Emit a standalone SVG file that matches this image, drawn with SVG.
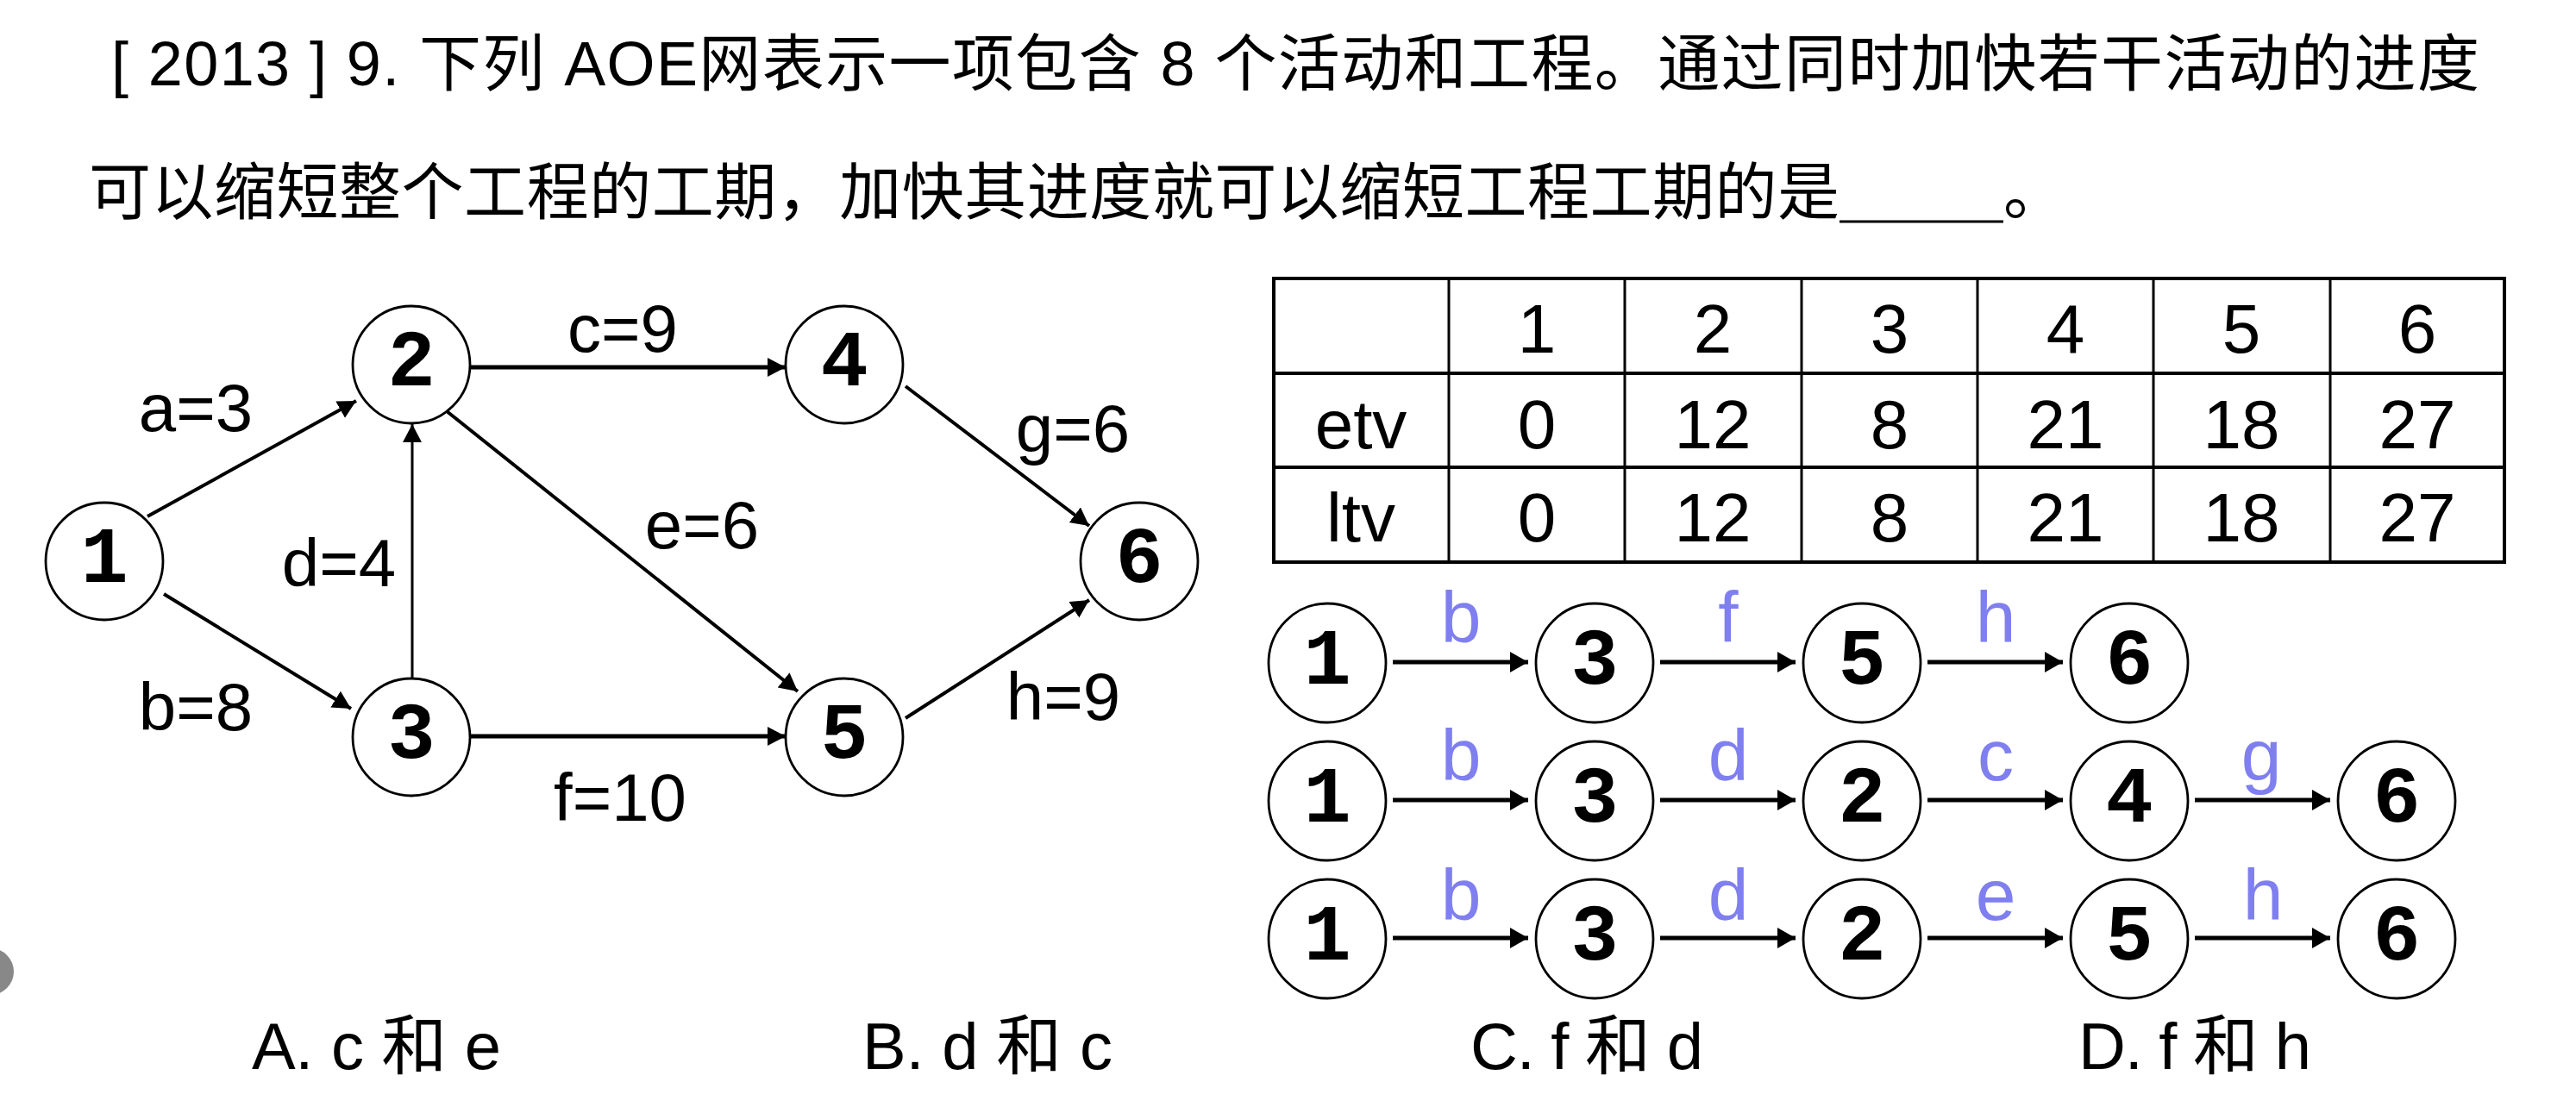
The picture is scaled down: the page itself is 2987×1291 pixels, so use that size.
<svg xmlns="http://www.w3.org/2000/svg" width="2987" height="1291" viewBox="0 0 2987 1291">
<style>
.bg{fill:#fff}
.node circle,.node ellipse{fill:#fff;stroke:#000;stroke-width:2.8}
.nl{font-family:"Liberation Mono","DejaVu Sans Mono",monospace;font-weight:bold;font-size:92px;text-anchor:middle;fill:#000}
.el{font-family:"Liberation Sans",Arial,sans-serif;font-size:78px;text-anchor:middle;fill:#000}
.bl{font-family:"Liberation Sans",Arial,sans-serif;font-size:84px;text-anchor:middle;fill:#7f7ff0}
.tt{font-family:"Liberation Sans","Noto Sans CJK SC",sans-serif;font-size:72px;fill:#000}
.op{font-family:"Liberation Sans","Noto Sans CJK SC",sans-serif;font-size:76px;fill:#000}
.cell{font-family:"Liberation Sans",Arial,sans-serif;font-size:80px;text-anchor:middle;fill:#000}
.e{stroke:#000;fill:none;stroke-width:4;marker-end:url(#ah)}
.p{stroke:#000;fill:none;stroke-width:5;marker-end:url(#ap)}
.th{stroke:#000;stroke-width:4}
.tv{stroke:#000;stroke-width:3}
</style>
<defs>
<marker id="ah" markerUnits="userSpaceOnUse" markerWidth="24" markerHeight="24" refX="21" refY="11" orient="auto" viewBox="0 0 24 24">
<path d="M0,0 L21,11 L0,22 z" fill="#000"/>
</marker>
<marker id="ap" markerUnits="userSpaceOnUse" markerWidth="26" markerHeight="26" refX="21" refY="12" orient="auto" viewBox="0 0 26 26">
<path d="M0,0 L21,12 L0,24 z" fill="#000"/>
</marker>
</defs>
<rect class="bg" x="0" y="0" width="2987" height="1291"/>

<g id="title">
<text class="tt" x="129" y="99" textLength="2746" lengthAdjust="spacing">[ 2013 ] 9. 下列 AOE网表示一项包含 8 个活动和工程。通过同时加快若干活动的进度</text>
<text class="tt" x="103" y="248" textLength="2030" lengthAdjust="spacing">可以缩短整个工程的工期，加快其进度就可以缩短工程工期的是</text>
<line x1="2133" y1="257" x2="2323" y2="257" stroke="#000" stroke-width="3"/>
<text class="tt" x="2323" y="248">。</text>
</g>

<g id="connectors">
<line class="e" x1="171" y1="599" x2="413" y2="465"/>
<line class="e" x1="190" y1="689" x2="407" y2="822"/>
<line class="e" x1="546" y1="426" x2="911" y2="426" style="stroke-width:5"/>
<line class="e" x1="478" y1="787" x2="478" y2="492" style="stroke-width:3"/>
<line class="e" x1="518" y1="477" x2="925" y2="802"/>
<line class="e" x1="546" y1="854" x2="911" y2="854" style="stroke-width:5"/>
<line class="e" x1="1050" y1="448" x2="1263" y2="610"/>
<line class="e" x1="1050" y1="833" x2="1263" y2="696"/>

<line class="p" x1="1615" y1="768" x2="1772" y2="768"/>
<line class="p" x1="1925" y1="768" x2="2082" y2="768"/>
<line class="p" x1="2235" y1="768" x2="2392" y2="768"/>

<line class="p" x1="1615" y1="928" x2="1772" y2="928"/>
<line class="p" x1="1925" y1="928" x2="2082" y2="928"/>
<line class="p" x1="2235" y1="928" x2="2392" y2="928"/>
<line class="p" x1="2545" y1="928" x2="2702" y2="928"/>

<line class="p" x1="1615" y1="1088" x2="1772" y2="1088"/>
<line class="p" x1="1925" y1="1088" x2="2082" y2="1088"/>
<line class="p" x1="2235" y1="1088" x2="2392" y2="1088"/>
<line class="p" x1="2545" y1="1088" x2="2702" y2="1088"/>
</g>

<g id="edge-labels">
<text class="el" x="227" y="500">a=3</text>
<text class="el" x="227" y="847">b=8</text>
<text class="el" x="722" y="408">c=9</text>
<text class="el" x="393" y="680">d=4</text>
<text class="el" x="814" y="636">e=6</text>
<text class="el" x="719" y="952">f=10</text>
<text class="el" x="1244" y="524">g=6</text>
<text class="el" x="1233" y="835">h=9</text>
</g>

<g id="n1" class="node"><circle cx="121" cy="651" r="68"/><text class="nl" x="121" y="675">1</text></g>
<g id="n2" class="node"><circle cx="477" cy="423" r="68"/><text class="nl" x="477" y="447">2</text></g>
<g id="n3" class="node"><circle cx="477" cy="855" r="68"/><text class="nl" x="477" y="879">3</text></g>
<g id="n4" class="node"><circle cx="979" cy="423" r="68"/><text class="nl" x="979" y="447">4</text></g>
<g id="n5" class="node"><circle cx="979" cy="855" r="68"/><text class="nl" x="979" y="879">5</text></g>
<g id="n6" class="node"><circle cx="1321" cy="651" r="68"/><text class="nl" x="1321" y="675">6</text></g>

<g id="table">
<rect x="1477" y="323" width="1427" height="329" fill="none" stroke="#000" stroke-width="4"/>
<line class="th" x1="1477" y1="433" x2="2904" y2="433"/>
<line class="th" x1="1477" y1="542" x2="2904" y2="542"/>
<line class="tv" x1="1680" y1="323" x2="1680" y2="652"/>
<line class="tv" x1="1884" y1="323" x2="1884" y2="652"/>
<line class="tv" x1="2089" y1="323" x2="2089" y2="652"/>
<line class="tv" x1="2293" y1="323" x2="2293" y2="652"/>
<line class="tv" x1="2497" y1="323" x2="2497" y2="652"/>
<line class="tv" x1="2702" y1="323" x2="2702" y2="652"/>
<text class="cell" x="1782" y="409">1</text>
<text class="cell" x="1986" y="409">2</text>
<text class="cell" x="2191" y="409">3</text>
<text class="cell" x="2395" y="409">4</text>
<text class="cell" x="2599" y="409">5</text>
<text class="cell" x="2803" y="409">6</text>
<text class="cell" x="1578" y="520">etv</text>
<text class="cell" x="1782" y="520">0</text>
<text class="cell" x="1986" y="520">12</text>
<text class="cell" x="2191" y="520">8</text>
<text class="cell" x="2395" y="520">21</text>
<text class="cell" x="2599" y="520">18</text>
<text class="cell" x="2803" y="520">27</text>
<text class="cell" x="1578" y="628">ltv</text>
<text class="cell" x="1782" y="628">0</text>
<text class="cell" x="1986" y="628">12</text>
<text class="cell" x="2191" y="628">8</text>
<text class="cell" x="2395" y="628">21</text>
<text class="cell" x="2599" y="628">18</text>
<text class="cell" x="2803" y="628">27</text>
</g>

<g id="path-labels">
<text class="bl" x="1694" y="745">b</text>
<text class="bl" x="2004" y="745">f</text>
<text class="bl" x="2314" y="745">h</text>
<text class="bl" x="1694" y="905">b</text>
<text class="bl" x="2004" y="905">d</text>
<text class="bl" x="2314" y="905">c</text>
<text class="bl" x="2622" y="905">g</text>
<text class="bl" x="1694" y="1067">b</text>
<text class="bl" x="2004" y="1067">d</text>
<text class="bl" x="2314" y="1067">e</text>
<text class="bl" x="2624" y="1067">h</text>
</g>

<g id="p1-1" class="node"><ellipse cx="1539" cy="769" rx="68" ry="69"/><text class="nl" x="1539" y="793">1</text></g>
<g id="p1-3" class="node"><ellipse cx="1849" cy="769" rx="68" ry="69"/><text class="nl" x="1849" y="793">3</text></g>
<g id="p1-5" class="node"><ellipse cx="2159" cy="769" rx="68" ry="69"/><text class="nl" x="2159" y="793">5</text></g>
<g id="p1-6" class="node"><ellipse cx="2469" cy="769" rx="68" ry="69"/><text class="nl" x="2469" y="793">6</text></g>

<g id="p2-1" class="node"><ellipse cx="1539" cy="929" rx="68" ry="69"/><text class="nl" x="1539" y="953">1</text></g>
<g id="p2-3" class="node"><ellipse cx="1849" cy="929" rx="68" ry="69"/><text class="nl" x="1849" y="953">3</text></g>
<g id="p2-2" class="node"><ellipse cx="2159" cy="929" rx="68" ry="69"/><text class="nl" x="2159" y="953">2</text></g>
<g id="p2-4" class="node"><ellipse cx="2469" cy="929" rx="68" ry="69"/><text class="nl" x="2469" y="953">4</text></g>
<g id="p2-6" class="node"><ellipse cx="2779" cy="929" rx="68" ry="69"/><text class="nl" x="2779" y="953">6</text></g>

<g id="p3-1" class="node"><ellipse cx="1539" cy="1089" rx="68" ry="69"/><text class="nl" x="1539" y="1113">1</text></g>
<g id="p3-3" class="node"><ellipse cx="1849" cy="1089" rx="68" ry="69"/><text class="nl" x="1849" y="1113">3</text></g>
<g id="p3-2" class="node"><ellipse cx="2159" cy="1089" rx="68" ry="69"/><text class="nl" x="2159" y="1113">2</text></g>
<g id="p3-5" class="node"><ellipse cx="2469" cy="1089" rx="68" ry="69"/><text class="nl" x="2469" y="1113">5</text></g>
<g id="p3-6" class="node"><ellipse cx="2779" cy="1089" rx="68" ry="69"/><text class="nl" x="2779" y="1113">6</text></g>

<g id="options">
<text class="op" x="292" y="1240" textLength="289" lengthAdjust="spacing">A. c 和 e</text>
<text class="op" x="1000" y="1240" textLength="290" lengthAdjust="spacing">B. d 和 c</text>
<text class="op" x="1705" y="1240" textLength="270" lengthAdjust="spacing">C. f 和 d</text>
<text class="op" x="2410" y="1240" textLength="270" lengthAdjust="spacing">D. f 和 h</text>
</g>

<circle cx="-11" cy="1127" r="27" fill="#888"/>
</svg>
